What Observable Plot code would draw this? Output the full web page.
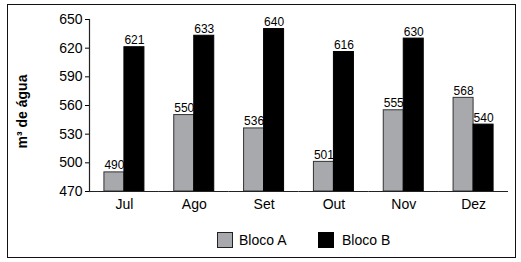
<!DOCTYPE html>
<html>
<head>
<meta charset="utf-8">
<script src="https://cdn.jsdelivr.net/npm/d3@7"></script>
<script src="https://cdn.jsdelivr.net/npm/@observablehq/plot@0.6"></script>
<style>
  html, body { margin: 0; padding: 0; background: #fff; }
  body { width: 521px; height: 262px; position: relative; overflow: hidden; font-family: Arial, "Liberation Sans", sans-serif; }
  #chart { position: absolute; left: 0; top: 0; }
  #border { position: absolute; left: 7px; top: 4px; width: 507px; height: 252px; border: 1.5px solid #111; pointer-events: none; }
  #legend { position: absolute; top: 232px; left: 0; width: 521px; height: 18px; font-size: 14px; color: #000; }
  .sw { position: absolute; top: 0; width: 16px; height: 16px; box-sizing: border-box; }
  .lb { position: absolute; top: 0; line-height: 18px; }
</style>
</head>
<body>
<div id="chart"></div>
<div id="legend"></div>
<div id="border"></div>
<script>
const months = ["Jul", "Ago", "Set", "Out", "Nov", "Dez"];
const series = ["Bloco A", "Bloco B"];
const blocoA = [490, 550, 536, 501, 555, 568];
const blocoB = [621, 633, 640, 616, 630, 540];
const yTicks = [470, 500, 530, 560, 590, 620, 650];
const yLabel = "m³ de água";
const colors = ["#a8a9ad", "#000000"];
const strokes = ["#333333", "#000000"];

const data = [];
months.forEach((m, i) => {
  data.push({month: m, serie: series[0], value: blocoA[i]});
  data.push({month: m, serie: series[1], value: blocoB[i]});
});

const chart = Plot.plot({
  width: 521,
  height: 215,
  marginLeft: 89,
  marginRight: 13,
  marginTop: 19,
  marginBottom: 24,
  style: {fontFamily: 'Arial, "Liberation Sans", sans-serif', fontSize: "14px", color: "#000", background: "transparent"},
  fx: {domain: months, paddingInner: 0, paddingOuter: 0, round: false, label: null, axis: "bottom", tickSize: 0, tickPadding: 8},
  x: {domain: series, paddingInner: 0, paddingOuter: 0.746, round: false, axis: null},
  y: {domain: [470, 650], ticks: yTicks, label: null, tickSize: 4, tickPadding: 3},
  color: {domain: series, range: colors},
  marks: [
    Plot.rectY(data, {fx: "month", x: "serie", y1: 470, y2: "value", fill: "serie",
      stroke: d => d.serie === series[0] ? strokes[0] : strokes[1], strokeWidth: 1}),
    Plot.text(data, {fx: "month", x: "serie", y: "value", text: d => String(d.value), lineAnchor: "bottom", dy: -3, fontSize: 12}),
    Plot.ruleY([470], {stroke: "#222", strokeWidth: 1.2}),
    Plot.frame({anchor: "left", stroke: "#222", strokeWidth: 1.2, facet: "super"}),
    Plot.text([yLabel], {frameAnchor: "left", textAnchor: "middle", rotate: -90, dx: -67, dy: 6, fontWeight: "bold", fontSize: 14, text: d => d, facet: "super"})
  ]
});
document.getElementById("chart").appendChild(chart);

const legend = document.getElementById("legend");
const legendX = [217, 318];
const labelX = [239, 342];
series.forEach((s, i) => {
  const sw = document.createElement("div");
  sw.className = "sw";
  sw.style.left = legendX[i] + "px";
  sw.style.background = colors[i];
  sw.style.border = "1.5px solid " + (i === 0 ? "#222" : "#000");
  legend.appendChild(sw);
  const lb = document.createElement("div");
  lb.className = "lb";
  lb.style.left = labelX[i] + "px";
  lb.style.top = "-1px";
  lb.textContent = s;
  legend.appendChild(lb);
});
</script>
</body>
</html>
